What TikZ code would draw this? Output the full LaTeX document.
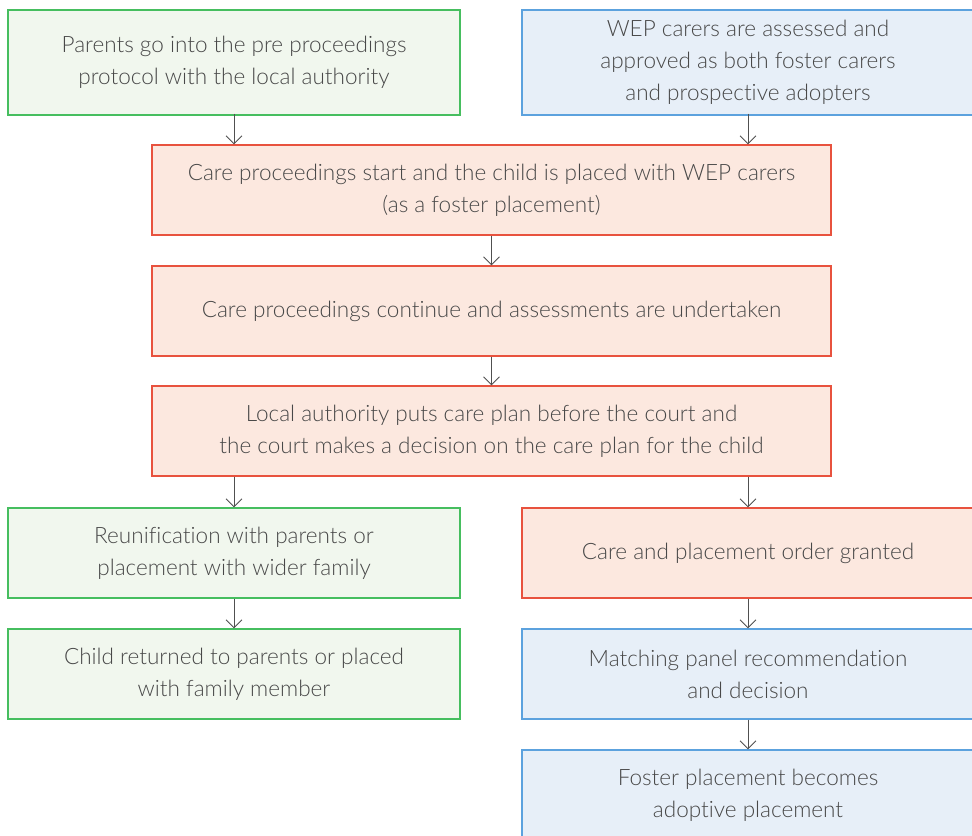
\documentclass[tikz,border=0pt]{standalone}
\usepackage{fontspec}
\setmainfont{Lato}[UprightFont=* Light, Ligatures=NoCommon]
\usepackage{tikz}
\usetikzlibrary{arrows.meta,positioning}
\definecolor{wepgreen}{RGB}{70,190,95}
\definecolor{weplightgreen}{RGB}{241,247,238}
\definecolor{wepred}{RGB}{232,82,62}
\definecolor{weplightred}{RGB}{252,232,223}
\definecolor{wepblue}{RGB}{92,162,222}
\definecolor{weplightblue}{RGB}{231,239,248}
\definecolor{weptext}{RGB}{72,72,72}
\definecolor{weparrow}{RGB}{80,80,80}
\tikzstyle{stage} = [rectangle, minimum height=67.5pt, text centered, align=center, inner sep=0pt, line width=0.8pt, text=weptext, font=\fontsize{16.9}{24}\selectfont]
\tikzstyle{half} = [stage, minimum width=339pt]
\tikzstyle{wide} = [stage, minimum width=509.25pt]
\tikzstyle{family} = [draw=wepgreen, fill=weplightgreen]
\tikzstyle{court} = [draw=wepred, fill=weplightred]
\tikzstyle{carers} = [draw=wepblue, fill=weplightblue]
\tikzstyle{arrow} = [line width=0.7pt, color=weparrow, -{Straight Barb[length=6pt,width=12pt]}]

\begin{document}
\begin{tikzpicture}[x=0.75pt, y=-0.75pt]
\useasboundingbox (0,0) rectangle (972,836);
% Top row
\node (preproc) [half, family, minimum height=78.75pt] at (234,62.5) {Parents go into the pre proceedings\\protocol with the local authority};
\node (approved) [half, carers, minimum height=78.75pt] at (748,62.5) {WEP carers are assessed and\\approved as both foster carers\\and prospective adopters};

% Court stages
\node (start) [wide, court] at (491.5,190) {Care proceedings start and the child is placed with WEP carers\\(as a foster placement)};
\node (continue) [wide, court] at (491.5,311) {Care proceedings continue and assessments are undertaken};
\node (careplan) [wide, court] at (491.5,431) {Local authority puts care plan before the court and\\the court makes a decision on the care plan for the child};

% Left branch
\node (reunify) [half, family] at (234,553) {Reunification with parents or\\placement with wider family};
\node (returned) [half, family] at (234,674) {Child returned to parents or placed\\with family member};

% Right branch
\node (order) [half, court] at (748,553) {Care and placement order granted};
\node (matching) [half, carers] at (748,674) {Matching panel recommendation\\and decision};
\node (adoptive) [half, carers] at (748,795) {Foster placement becomes\\adoptive placement};

% Arrows
\draw[arrow] (preproc.south) ++(0,-2) coordinate (a1) (a1) -- (a1 |- start.north);
\draw[arrow] (approved.south) ++(0,-2) coordinate (a2) (a2) -- (a2 |- start.north);
\draw[arrow] (start) -- (continue);
\draw[arrow] (continue) -- (careplan);
\draw[arrow] (reunify.north |- careplan.south) -- (reunify);
\draw[arrow] (order.north |- careplan.south) -- (order);
\draw[arrow] (reunify) -- (returned);
\draw[arrow] (order) -- (matching);
\draw[arrow] (matching) -- (adoptive);
\end{tikzpicture}
\end{document}
